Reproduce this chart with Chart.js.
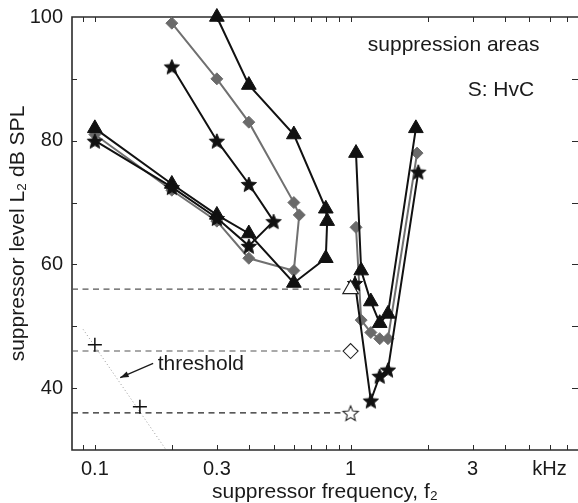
<!DOCTYPE html>
<html>
<head>
<meta charset="utf-8">
<script src="https://cdn.jsdelivr.net/npm/chart.js@4"></script>
<style>
  html, body { margin: 0; padding: 0; background: #fff; }
  #wrap { width: 578px; height: 503px; }
</style>
</head>
<body>
<div id="wrap"><canvas id="chart" width="578" height="503"></canvas></div>
<script>
// axis limits (kHz, dB SPL)
const xMin = 0.0814, xMax = 7.75;
const yMin = 30, yMax = 100;

// tick marks and labels
const xTickMarks = [0.09, 0.1, 0.2, 0.3, 0.4, 0.5, 0.6, 0.7, 0.8, 0.9, 1, 2, 3, 4, 5, 6, 7];
const xTickVals = [0.1, 0.3, 1, 3, 6];
const xTickLabels = ['0.1', '0.3', '1', '3', 'kHz'];
const yTickMarks = [40, 50, 60, 70, 80, 90];
const yTickVals = [40, 60, 80, 100];

// triangles (black), low and high frequency suppression areas
const triFreqLow = [0.1, 0.2, 0.3, 0.4, 0.6, 0.8, 0.81, 0.8, 0.6, 0.4, 0.3];
const triLevelLow = [82, 73, 68, 65, 57, 61, 67, 69, 81, 89, 100];
const triFreqHigh = [1.05, 1.1, 1.2, 1.3, 1.4, 1.8];
const triLevelHigh = [78, 59, 54, 50.5, 52, 82];

// diamonds (grey)
const diaFreqLow = [0.1, 0.2, 0.3, 0.4, 0.6, 0.63, 0.6, 0.4, 0.3, 0.2];
const diaLevelLow = [81, 72, 67, 61, 59, 68, 70, 83, 90, 99];
const diaFreqHigh = [1.05, 1.1, 1.2, 1.3, 1.4, 1.82];
const diaLevelHigh = [66, 51, 49, 48, 48, 78];

// stars (black)
const starFreqLow = [0.1, 0.2, 0.3, 0.4, 0.5, 0.4, 0.3, 0.2];
const starLevelLow = [80, 72.5, 67.5, 63, 67, 73, 80, 92];
const starFreqHigh = [1.04, 1.2, 1.3, 1.4, 1.84];
const starLevelHigh = [57, 38, 42, 43, 75];

// thresholds at CF (open symbols) and threshold curve
const cfFreq = 1;
const cfLevels = [56, 46, 36];
const plusFreq = [0.1, 0.15];
const plusLevel = [47, 37];
const dotFreq = [0.09, 0.19];
const dotLevel = [49.5, 30];

// text notes
const notes = [
  { text: 'suppression areas', f: 1.168, l: 95.5 },
  { text: 'S: HvC', f: 2.87, l: 88.2 },
  { text: 'threshold', f: 0.176, l: 43.9 }
];
const arrowFrom = { f: 0.169, l: 44.0 };
const arrowTo = { f: 0.1256, l: 41.7 };

const FONT = '"Liberation Sans", Arial, Helvetica, sans-serif';

function pts(fs, ls) { return fs.map((f, i) => ({ x: f, y: ls[i] })); }

function starImage(r, fill, stroke, lw) {
    const s = Math.ceil(r * 2 + 4);
    const c = document.createElement('canvas');
    c.width = c.height = s;
    const g = c.getContext('2d');
    g.beginPath();
    for (let i = 0; i < 10; i++) {
        const rr = i % 2 ? r * 0.45 : r;
        const a = -Math.PI / 2 + i * Math.PI / 5;
        g.lineTo(s / 2 + rr * Math.cos(a), s / 2 + 1 + rr * Math.sin(a));
    }
    g.closePath();
    g.fillStyle = fill;
    g.fill();
    g.strokeStyle = stroke;
    g.lineWidth = lw;
    g.stroke();
    return c;
}

const starBlack = starImage(8, '#111', '#111', 1);
const starOpen = starImage(8, '#fff', '#222', 1.1);

function lineSet(data, color, style, radius, fill, width) {
    return {
        data: data,
        showLine: true,
        clip: false,
        borderColor: color,
        borderWidth: width,
        pointStyle: style,
        pointRadius: radius,
        pointBackgroundColor: fill,
        pointBorderColor: color,
        pointBorderWidth: 1
    };
}

const datasets = [
    // open markers at CF on top
    { data: [{ x: cfFreq, y: cfLevels[0] }], showLine: false, pointStyle: 'triangle', pointRadius: 9,
      pointBackgroundColor: '#fff', pointBorderColor: '#222', pointBorderWidth: 1.1 },
    { data: [{ x: cfFreq, y: cfLevels[1] }], showLine: false, pointStyle: 'rectRot', pointRadius: 7.5,
      pointBackgroundColor: '#fff', pointBorderColor: '#222', pointBorderWidth: 1.1 },
    { data: [{ x: cfFreq, y: cfLevels[2] }], showLine: false, pointStyle: starOpen, pointRadius: 8 },
    lineSet(pts(starFreqHigh, starLevelHigh), '#111', starBlack, 8, '#111', 2),
    lineSet(pts(starFreqLow, starLevelLow), '#111', starBlack, 8, '#111', 2),
    lineSet(pts(triFreqHigh, triLevelHigh), '#111', 'triangle', 8.5, '#111', 2),
    lineSet(pts(triFreqLow, triLevelLow), '#111', 'triangle', 8.5, '#111', 2),
    lineSet(pts(diaFreqHigh, diaLevelHigh), '#707070', 'rectRot', 6, '#6a6a6a', 2),
    lineSet(pts(diaFreqLow, diaLevelLow), '#707070', 'rectRot', 6, '#6a6a6a', 2),
    // threshold "+" marks
    { data: pts(plusFreq, plusLevel), showLine: false, pointStyle: 'cross', pointRadius: 7,
      pointBorderColor: '#111', pointBorderWidth: 1.5 },
    // dotted threshold curve
    { data: pts(dotFreq, dotLevel), showLine: true, borderColor: '#999', borderWidth: 1,
      borderDash: [1, 2.5], pointRadius: 0 }
];
// dashed lines from the axis to the CF thresholds
cfLevels.forEach((l, i) => {
    datasets.push({
        data: [{ x: xMin, y: l }, { x: cfFreq, y: l }],
        showLine: true, borderColor: i === 2 ? '#222' : '#555', borderWidth: 1.1,
        borderDash: [6, 4.5], pointRadius: 0
    });
});

const frameTicks = {
    id: 'frameTicks',
    // let the plot area run to the right edge of the canvas
    afterLayout(chart) {
        const a = chart.chartArea, x = chart.scales.x;
        a.right = chart.width;
        a.width = a.right - a.left;
        x.right = a.right;
        x.width = a.width;
        x.configure();
    },
    beforeDatasetsDraw(chart) {
        const { ctx, chartArea: a, scales: { x, y } } = chart;
        ctx.save();
        ctx.strokeStyle = '#2b2b2b';
        ctx.lineWidth = 1;
        ctx.beginPath();
        xTickMarks.forEach(v => {
            const px = Math.round(x.getPixelForValue(v)) + 0.5;
            ctx.moveTo(px, a.bottom); ctx.lineTo(px, a.bottom - 5);
            ctx.moveTo(px, a.top); ctx.lineTo(px, a.top + 5);
        });
        yTickMarks.forEach(v => {
            const py = Math.round(y.getPixelForValue(v)) + 0.5;
            ctx.moveTo(a.left, py); ctx.lineTo(a.left + 5, py);
            ctx.moveTo(a.right, py); ctx.lineTo(a.right - 6, py);
        });
        ctx.stroke();
        // left, top and bottom edges of the box
        ctx.lineWidth = 1.6;
        ctx.beginPath();
        ctx.moveTo(a.right, a.top);
        ctx.lineTo(a.left, a.top);
        ctx.lineTo(a.left, a.bottom);
        ctx.lineTo(a.right, a.bottom);
        ctx.stroke();
        ctx.restore();
    },
    afterDatasetsDraw(chart) {
        const { ctx, scales: { x, y } } = chart;
        ctx.save();
        ctx.fillStyle = '#1a1a1a';
        ctx.font = '21px ' + FONT;
        ctx.textAlign = 'left';
        ctx.textBaseline = 'middle';
        notes.forEach(n => ctx.fillText(n.text, x.getPixelForValue(n.f), y.getPixelForValue(n.l)));

        // arrow to the threshold curve
        const x0 = x.getPixelForValue(arrowFrom.f), y0 = y.getPixelForValue(arrowFrom.l);
        const x1 = x.getPixelForValue(arrowTo.f), y1 = y.getPixelForValue(arrowTo.l);
        const ang = Math.atan2(y1 - y0, x1 - x0);
        ctx.strokeStyle = '#1a1a1a';
        ctx.lineWidth = 1.2;
        ctx.beginPath();
        ctx.moveTo(x0, y0);
        ctx.lineTo(x1, y1);
        ctx.stroke();
        ctx.beginPath();
        ctx.moveTo(x1, y1);
        ctx.lineTo(x1 - 9 * Math.cos(ang - 0.35), y1 - 9 * Math.sin(ang - 0.35));
        ctx.lineTo(x1 - 9 * Math.cos(ang + 0.35), y1 - 9 * Math.sin(ang + 0.35));
        ctx.closePath();
        ctx.fill();
        ctx.restore();
    }
};

new Chart(document.getElementById('chart'), {
    type: 'scatter',
    data: { datasets: datasets },
    options: {
        responsive: false,
        animation: false,
        layout: { padding: { top: 17, right: 0, left: 0, bottom: 0 } },
        plugins: { legend: { display: false }, tooltip: { enabled: false } },
        elements: { line: { tension: 0 } },
        scales: {
            x: {
                type: 'logarithmic',
                min: xMin,
                max: xMax,
                grid: { display: false, drawTicks: false },
                border: { display: false },
                afterBuildTicks: axis => { axis.ticks = xTickVals.map(v => ({ value: v })); },
                afterFit: axis => { axis.height = 53; axis.paddingLeft = 0; axis.paddingRight = 0; },
                ticks: {
                    autoSkip: false,
                    maxRotation: 0,
                    padding: 7,
                    color: '#1a1a1a',
                    font: { size: 20, family: FONT },
                    callback: v => {
                        const i = xTickVals.findIndex(t => Math.abs(t - v) < 1e-9);
                        return i >= 0 ? xTickLabels[i] : '';
                    }
                },
                title: {
                    display: true,
                    text: 'suppressor frequency, f\u2082',
                    color: '#1a1a1a',
                    font: { size: 21, family: FONT, lineHeight: 1.05 },
                    padding: { top: 0, bottom: 0 }
                }
            },
            y: {
                min: yMin,
                max: yMax,
                grid: { display: false, drawTicks: false },
                border: { display: false },
                afterBuildTicks: axis => { axis.ticks = yTickVals.map(v => ({ value: v })); },
                afterFit: axis => { axis.width = 72; axis.paddingTop = 0; axis.paddingBottom = 0; },
                ticks: {
                    padding: 9,
                    color: '#1a1a1a',
                    font: { size: 20, family: FONT }
                },
                title: {
                    display: true,
                    text: 'suppressor level L\u2082 dB SPL',
                    color: '#1a1a1a',
                    font: { size: 21, family: FONT, lineHeight: 1.2 },
                    padding: { top: 6, bottom: 0 }
                }
            }
        }
    },
    plugins: [frameTicks]
});
</script>
</body>
</html>
